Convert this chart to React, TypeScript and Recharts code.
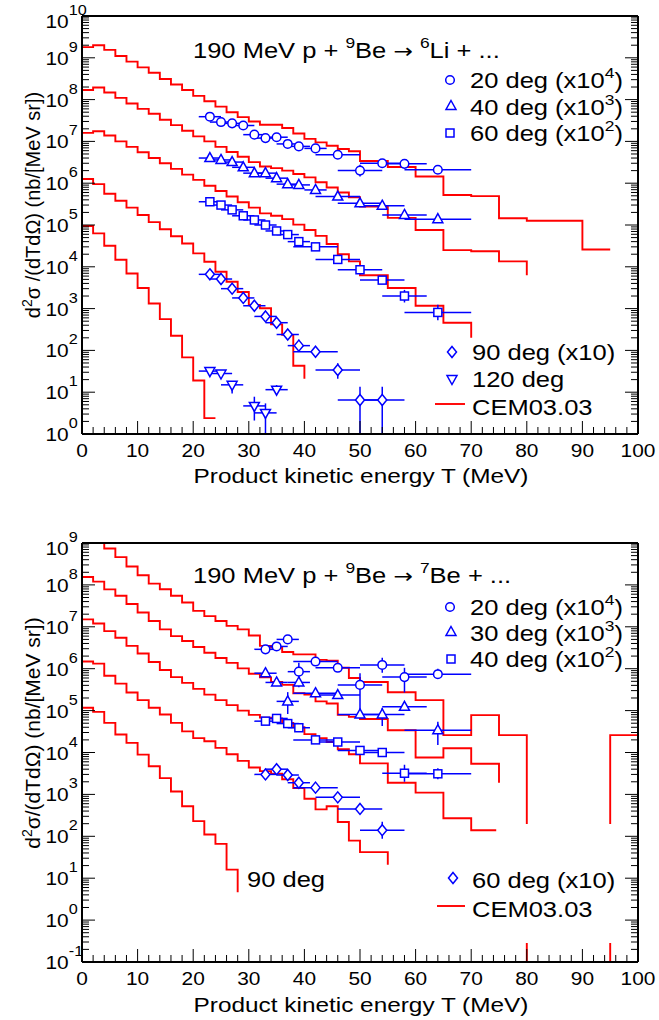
import React from "react";
import {
  ComposedChart,
  Line,
  Scatter,
  XAxis,
  YAxis,
  ErrorBar,
  Legend,
} from "recharts";

const RED = "#ff0000";
const BLUE = "#0000ff";
const FONT = '"Liberation Sans", Arial, Helvetica, sans-serif';
const ARROW_FONT = '"DejaVu Sans", sans-serif';
const SX = 1.16; // text is drawn slightly wide
const W = 659;

// ---------- axes ----------
const xTicks = [
  0, 2, 4, 6, 8, 10, 12, 14, 16, 18, 20, 22, 24, 26, 28, 30, 32, 34, 36, 38, 40,
  42, 44, 46, 48, 50, 52, 54, 56, 58, 60, 62, 64, 66, 68, 70, 72, 74, 76, 78,
  80, 82, 84, 86, 88, 90, 92, 94, 96, 98, 100,
];

// 2 MeV bins up to 50 MeV, then 5 MeV bins
const e2to50 = [
  0, 2, 4, 6, 8, 10, 12, 14, 16, 18, 20, 22, 24, 26, 28, 30, 32, 34, 36, 38, 40,
  42, 44, 46, 48, 50,
];

// ---------- p + 9Be -> 6Li : CEM03.03 ----------
const liCem20Edges = [...e2to50, 55, 60, 65, 70, 75, 80, 85, 90, 95];
const liCem20 = [
  1.8e9, 2.0e9, 1.55e9, 1.1e9, 8.1e8, 5.9e8, 4.4e8, 3.1e8, 2.3e8, 1.7e8,
  1.23e8, 9.1e7, 6.8e7, 5.0e7, 3.8e7, 3.0e7, 2.5e7, 2.5e7, 2.1e7, 1.55e7,
  1.15e7, 9.5e6, 7.9e6, 6.6e6, 5.8e6, 3.4e6, 2.45e6, 1.45e6, 5.2e5, 4.9e5,
  1.45e5, 1.26e5, 1.26e5, 2.6e4,
];
const liCem40Edges = [...e2to50, 55, 60, 65, 70, 75, 80];
const liCem40 = [
  1.7e8, 1.95e8, 1.48e8, 1.1e8, 8.1e7, 6.0e7, 4.6e7, 3.3e7, 2.45e7, 1.8e7,
  1.32e7, 1.0e7, 7.4e6, 5.6e6, 4.3e6, 3.2e6, 2.5e6, 2.3e6, 2.0e6, 1.66e6,
  1.38e6, 1.05e6, 7.9e5, 6.0e5, 4.6e5, 2.75e5, 1.48e5, 7.6e4, 2.5e4, 2.35e4,
  1.35e4,
];
const liCem40Tail = 6.3e3;
const liCem60Edges = [...e2to50, 55, 60, 65, 70];
const liCem60 = [
  1.6e7, 1.75e7, 1.38e7, 1.0e7, 7.4e6, 5.5e6, 4.0e6, 3.0e6, 2.2e6, 1.6e6,
  1.2e6, 8.7e5, 6.5e5, 4.8e5, 3.5e5, 2.6e5, 1.9e5, 1.66e5, 1.38e5, 1.02e5,
  7.6e4, 5.5e4, 3.5e4, 2.0e4, 1.35e4, 6.3e3, 3.1e3, 1.17e3, 460,
];
const liCem60Tail = 200;
const liCem90Edges = [
  0, 2, 4, 6, 8, 10, 12, 14, 16, 18, 20, 22, 24, 26, 28, 30, 32, 34, 36, 38, 40,
];
const liCem90 = [
  1.26e6, 9.5e5, 5.6e5, 3.8e5, 2.6e5, 1.74e5, 1.17e5, 7.9e4, 5.4e4, 3.6e4,
  2.1e4, 1.32e4, 7.6e3, 4.4e3, 2.5e3, 1.23e3, 1.02e3, 420, 235, 43,
];
const liCem90Tail = 21;
const liCem120Edges = [0, 2, 4, 6, 8, 10, 12, 14, 16, 18, 20, 22, 24];
const liCem120 = [
  9.5e4, 6.3e4, 3.2e4, 1.48e4, 6.9e3, 3.1e3, 1.32e3, 560, 225, 68, 19, 2.4,
];

// ---------- p + 9Be -> 6Li : data ----------
const liT = [23, 25, 27, 29, 31, 33, 35, 37, 39, 42, 46, 50, 54, 58, 64];
const liExNarrow = [2, 2, 2, 2, 2, 2, 2, 2, 2, 2, 4, 4, 4, 4, 6];
const liExWide = [2, 2, 2, 2, 2, 2, 2, 2, 2, 4, 4, 4, 4, 4, 6];
const li20 = [
  3.9e7, 2.9e7, 2.7e7, 2.4e7, 1.45e7, 1.2e7, 1.26e7, 8.7e6, 7.6e6, 6.8e6,
  4.8e6, 2.0e6, 3.0e6, 2.9e6, 2.1e6,
];
const li20Ey = [
  [2e6, 2e6], [1.5e6, 1.5e6], [1.4e6, 1.4e6], [1.2e6, 1.2e6], [8e5, 8e5],
  [6e5, 6e5], [6e5, 6e5], [4.5e5, 4.5e5], [4e5, 4e5], [3.5e5, 3.5e5],
  [3e5, 3e5], [5.5e5, 7.6e5], [2e5, 2e5], [2e5, 2e5], [1.5e5, 1.5e5],
];
const li40 = [
  4.0e6, 3.6e6, 3.2e6, 2.4e6, 1.74e6, 1.74e6, 1.32e6, 9.5e5, 9.1e5, 6.9e5,
  4.8e5, 3.3e5, 2.9e5, 1.74e5, 1.38e5,
];
const li40Ey = [
  [2e5, 2e5], [1.8e5, 1.8e5], [1.6e5, 1.6e5], [1.2e5, 1.2e5], [9e4, 9e4],
  [9e4, 9e4], [7e4, 7e4], [5e4, 5e4], [5e4, 5e4], [3.5e4, 3.5e4],
  [2.5e4, 2.5e4], [2e4, 2e4], [2e4, 2e4], [1.2e4, 1.2e4], [1e4, 1e4],
];
const li60 = [
  3.6e5, 3.0e5, 2.3e5, 1.66e5, 1.32e5, 1.0e5, 7.2e4, 5.9e4, 4.0e4, 3.0e4,
  1.5e4, 8.5e3, 4.8e3, 2.0e3, 810,
];
const li60Ey = [
  [1.8e4, 1.8e4], [1.5e4, 1.5e4], [1.2e4, 1.2e4], [8e3, 8e3], [7e3, 7e3],
  [5e3, 5e3], [4e3, 4e3], [3e3, 3e3], [2e3, 2e3], [1.6e3, 1.6e3],
  [900, 900], [600, 600], [400, 400], [600, 800], [280, 420],
];
const li90T = [23, 25, 27, 29, 31, 33, 35, 37, 39, 42, 46, 50, 54];
const li90Ex = [2, 2, 2, 2, 2, 2, 2, 2, 2, 4, 4, 4, 4];
const li90 = [6.6e3, 5.1e3, 3.0e3, 1.8e3, 1.17e3, 650, 460, 240, 130, 93, 34, 6.5, 6.5];
const li90Ey = [
  [330, 330], [260, 260], [150, 150], [90, 90], [60, 60], [35, 35], [30, 30],
  [20, 20], [35, 50], [10, 12], [13, 15], [5.5, 7], [5.5, 7],
];
const li120T = [23, 25, 27, 31, 33, 35];
const li120Ex = [2, 2, 2, 2, 2, 2];
const li120 = [32, 28, 15, 4.7, 3.2, 11.5];
const li120Ey = [[4, 4], [3, 3], [5.7, 2.8], [2.6, 3.1], [2.2, 2.2], [2.2, 3.3]];

// ---------- p + 9Be -> 7Be : CEM03.03 ----------
const beCem20Edges = [...e2to50, 55, 60, 65, 70, 75, 80, 95, 100];
const beCem20 = [
  1.6e9, 1.12e9, 7.4e8, 4.6e8, 2.75e8, 1.7e8, 1.07e8, 7.9e7, 5.5e7, 3.8e7,
  2.4e7, 1.8e7, 1.38e7, 1.05e7, 8.7e6, 6.2e6, 3.5e6, 3.2e6, 2.5e6, 2.2e6,
  2.2e6, 1.62e6, 1.55e6, 1.05e6, 6.0e5, 4.8e5, 2.75e5, 1.78e5, 2.6e4, 7.8e4,
  2.6e4, 1e-3, 2.6e4,
];
const beCem30Edges = [...e2to50, 55, 60, 65, 70, 75];
const beCem30 = [
  1.55e8, 1.2e8, 7.8e7, 5.5e7, 3.5e7, 2.2e7, 1.38e7, 8.7e6, 6.0e6, 4.6e6,
  3.3e6, 2.4e6, 1.8e6, 1.38e6, 1.02e6, 7.6e5, 6.2e5, 4.8e5, 4.1e5, 2.6e5,
  2.4e5, 1.66e5, 1.48e5, 7.9e4, 7.1e4, 6.3e4, 3.4e4, 7.6e3, 1.26e4, 5.4e3,
];
const beCem30Tail = 1.9e3;
const beCem40Edges = [...e2to50, 55, 60, 65, 70, 74.5];
const beCem40 = [
  1.5e7, 1.2e7, 7.9e6, 5.5e6, 3.5e6, 2.3e6, 1.45e6, 9.3e5, 6.3e5, 4.6e5,
  3.3e5, 2.4e5, 1.78e5, 1.35e5, 1.0e5, 7.9e4, 6.8e4, 6.5e4, 5.1e4, 4.0e4,
  2.75e4, 2.2e4, 1.78e4, 1.2e4, 9.1e3, 5.5e3, 1.9e3, 1.1e3, 270, 140,
];
const beCem60Edges = [...e2to50, 55];
const beCem60 = [
  1.48e6, 1.32e6, 6.8e5, 4.4e5, 2.7e5, 1.78e5, 1.17e5, 8.1e4, 5.1e4, 3.2e4,
  2.2e4, 1.86e4, 1.29e4, 9.1e3, 6.3e3, 4.4e3, 3.6e3, 3.1e3, 2.3e3, 1.41e3,
  790, 440, 520, 220, 79, 42,
];
const beCem60Tail = 21;
const beCem90Edges = [0, 2, 4, 6, 8, 10, 12, 14, 16, 18, 20, 22, 24, 26, 28];
const beCem90 = [
  1.17e5, 9.3e4, 5.1e4, 2.7e4, 1.7e4, 8.9e3, 4.7e3, 2.45e3, 1.17e3, 520, 230,
  110, 66, 16,
];
const beCem90Tail = 4.6;

// ---------- p + 9Be -> 7Be : data ----------
const beT = [33, 35, 37, 39, 42, 46, 50, 54, 58, 64];
const beEx = [2, 2, 2, 2, 4, 4, 4, 4, 4, 6];
const be20 = [2.9e6, 3.4e6, 5.0e6, 8.5e5, 1.48e6, 1.05e6, 4.1e5, 1.23e6, 6.3e5, 7.4e5];
const be20Ey = [
  [6e5, 7.5e5], [4.5e5, 4.5e5], [6e5, 6e5], [3.1e5, 5.3e5], [2.5e5, 2.5e5],
  [1.2e5, 1.2e5], [3.2e5, 3.7e5], [4.3e5, 5.9e5], [3.6e5, 4.2e5], [1.5e5, 2.6e5],
];
const be30 = [7.8e5, 4.7e5, 1.66e5, 4.7e5, 2.6e5, 2.35e5, 8.1e4, 8.1e4, 1.23e5, 3.4e4];
const be30Ey = [
  [1.4e5, 1.4e5], [6e4, 6e4], [8.3e4, 1.1e5], [1.1e5, 1.5e5], [5e4, 5e4],
  [3.8e4, 3.8e4], [1.1e4, 1.2e4], [3.8e4, 3.6e4], [2.5e4, 3.2e4], [1.9e4, 2e4],
];
const be40 = [5.6e4, 6.5e4, 4.9e4, 3.9e4, 2.0e4, 1.78e4, 1.12e4, 1.0e4, 3.2e3, 3.1e3];
const be40Ey = [
  [3e3, 3e3], [3e3, 3e3], [2.5e3, 2.5e3], [2e3, 2e3], [1.2e3, 1.2e3],
  [1e3, 1e3], [1e3, 1e3], [1e3, 1e3], [1.2e3, 1.9e3], [800, 1.1e3],
];
const be60T = [33, 35, 37, 39, 42, 46, 50, 54];
const be60Ex = [2, 2, 2, 2, 4, 4, 4, 4];
const be60 = [3.0e3, 4.0e3, 2.9e3, 1.9e3, 1.45e3, 850, 450, 140];
const be60Ey = [
  [700, 900], [400, 400], [200, 200], [150, 150], [100, 100], [70, 70],
  [50, 50], [52, 82],
];

// ---------- helpers ----------
type Pt = { x: number; y: number };
type Kind = "circle" | "triangle" | "square" | "diamond" | "tdown";
type Meas = { x: number; y: number; ex: number; ey: number[] };

function hist(edges: number[], contents: number[], tail?: number): Pt[] {
  const pts = contents.map((c, i) => ({ x: edges[i], y: c }));
  pts.push({
    x: edges[edges.length - 1],
    y: tail ?? contents[contents.length - 1],
  });
  return pts;
}

function meas(t: number[], v: number[], ex: number[], ey: number[][]): Meas[] {
  return t.map((x, i) => ({ x, y: v[i], ex: ex[i], ey: ey[i] }));
}

function logTicks(lo: number, hi: number): number[] {
  const out: number[] = [];
  for (let d = lo; d < hi; d++) {
    for (let k = 1; k <= 9; k++) out.push(Number((k * Math.pow(10, d)).toPrecision(3)));
  }
  out.push(Math.pow(10, hi));
  return out;
}

const isDecade = (v: number) =>
  Math.abs(Math.log10(v) - Math.round(Math.log10(v))) < 1e-6;

function Marker({ kind, cx, cy }: { kind: Kind; cx: number; cy: number }) {
  const st = { fill: "#fff", stroke: BLUE, strokeWidth: 1.5 };
  if (kind === "circle") return <circle cx={cx} cy={cy} r={4.3} {...st} />;
  if (kind === "square")
    return <rect x={cx - 4} y={cy - 4} width={8} height={8} {...st} />;
  let d = "";
  if (kind === "triangle")
    d = `M${cx},${cy - 5.5}L${cx + 5},${cy + 3.5}L${cx - 5},${cy + 3.5}Z`;
  if (kind === "tdown")
    d = `M${cx},${cy + 5.5}L${cx + 5},${cy - 3.5}L${cx - 5},${cy - 3.5}Z`;
  if (kind === "diamond")
    d = `M${cx},${cy - 5.5}L${cx + 4.5},${cy}L${cx},${cy + 5.5}L${cx - 4.5},${cy}Z`;
  return <path d={d} {...st} />;
}

function Txt({ x, y, size, anchor = "start", children }: any) {
  return (
    <text
      transform={`translate(${x} ${y}) scale(${SX} 1)`}
      fontSize={size}
      fontFamily={FONT}
      textAnchor={anchor}
      fill="#000"
    >
      {children}
    </text>
  );
}

// "(x10^n)" style suffix
function Times({ n }: { n?: string }) {
  if (!n) return <tspan>{" (x10)"}</tspan>;
  return (
    <>
      <tspan>{" (x10"}</tspan>
      <tspan dy={-10} fontSize={15}>{n}</tspan>
      <tspan dy={10}>)</tspan>
    </>
  );
}

// reaction title: 190 MeV p + 9Be -> ^A X + ...
function Reaction({ y, a, product }: { y: number; a: string; product: string }) {
  return (
    <Txt x={193} y={y} size={22}>
      {"190 MeV p + "}
      <tspan dy={-10} fontSize={15}>9</tspan>
      <tspan dy={10}>{"Be "}</tspan>
      <tspan fontFamily={ARROW_FONT} fontSize={20}>→</tspan>
      <tspan>{" "}</tspan>
      <tspan dy={-10} fontSize={15}>{a}</tspan>
      <tspan dy={10}>{`${product} + ...`}</tspan>
    </Txt>
  );
}

// ---------- tick renderers (ticks point into the frame) ----------
function BottomTick({ x, y, payload }: any) {
  const major = payload.value % 10 === 0;
  return (
    <g>
      <line x1={x} x2={x} y1={y} y2={y - (major ? 13 : 7)} stroke="#000" />
      {major && (
        <text
          transform={`translate(${x} ${y + 22.5}) scale(${SX} 1)`}
          textAnchor="middle"
          fontSize={18}
          fontFamily={FONT}
        >
          {payload.value}
        </text>
      )}
    </g>
  );
}

function TopTick({ x, y, payload }: any) {
  const major = payload.value % 10 === 0;
  return <line x1={x} x2={x} y1={y} y2={y + (major ? 13 : 7)} stroke="#000" />;
}

function LeftTick({ x, y, payload, hi }: any) {
  const major = isDecade(payload.value);
  const exp = Math.round(Math.log10(payload.value));
  // the label at the upper end sits a little lower, inside the page
  const shift = exp === hi ? 5 : 0;
  return (
    <g>
      <line x1={x} x2={x + (major ? 13 : 7)} y1={y} y2={y} stroke="#000" />
      {major && (
        <text
          transform={`translate(45.5 ${y + 7 + shift}) scale(${SX} 1)`}
          fontSize={18}
          fontFamily={FONT}
        >
          10
          <tspan dy={-13} fontSize={14}>
            {exp}
          </tspan>
        </text>
      )}
    </g>
  );
}

function RightTick({ x, y, payload }: any) {
  const major = isDecade(payload.value);
  return <line x1={x} x2={x - (major ? 13 : 7)} y1={y} y2={y} stroke="#000" />;
}

const frame = { stroke: "#000", strokeWidth: 2 };

type PanelProps = {
  height: number;
  top: number;
  bottom: number;
  yLo: number;
  yHi: number;
  curves: Pt[][];
  series: { kind: Kind; data: Meas[] }[];
  overlay: React.ReactNode;
};

function Panel({ height, top, bottom, yLo, yHi, curves, series, overlay }: PanelProps) {
  const yTicks = logTicks(yLo, yHi);
  const yDomain = [Math.pow(10, yLo), Math.pow(10, yHi)];
  return (
    <ComposedChart width={W} height={height} margin={{ top: 0, right: 0, bottom: 0, left: 0 }}>
      <XAxis
        dataKey="x"
        type="number"
        domain={[0, 100]}
        allowDataOverflow
        ticks={xTicks}
        interval={0}
        height={bottom}
        tickLine={false}
        tickSize={0}
        tickMargin={0}
        axisLine={frame}
        tick={(p: any) => <BottomTick {...p} />}
      />
      <XAxis
        xAxisId="top"
        orientation="top"
        type="number"
        domain={[0, 100]}
        allowDataOverflow
        ticks={xTicks}
        interval={0}
        height={top}
        tickLine={false}
        tickSize={0}
        tickMargin={0}
        axisLine={frame}
        tick={(p: any) => <TopTick {...p} />}
      />
      <YAxis
        dataKey="y"
        type="number"
        scale="log"
        domain={yDomain}
        allowDataOverflow
        ticks={yTicks}
        interval={0}
        width={82}
        tickLine={false}
        tickSize={0}
        tickMargin={0}
        axisLine={frame}
        tick={(p: any) => <LeftTick {...p} hi={yHi} />}
      />
      <YAxis
        yAxisId="right"
        orientation="right"
        type="number"
        scale="log"
        domain={yDomain}
        allowDataOverflow
        ticks={yTicks}
        interval={0}
        width={21}
        tickLine={false}
        tickSize={0}
        tickMargin={0}
        axisLine={frame}
        tick={(p: any) => <RightTick {...p} />}
      />
      {curves.map((c, i) => (
        <Line
          key={`cem${i}`}
          data={c}
          dataKey="y"
          type="stepAfter"
          stroke={RED}
          strokeWidth={1.9}
          dot={false}
          activeDot={false}
          legendType="none"
          isAnimationActive={false}
        />
      ))}
      {series.map((s, i) => (
        <Scatter
          key={`exp${i}`}
          data={s.data}
          dataKey="y"
          legendType="none"
          isAnimationActive={false}
          shape={(p: any) => <Marker kind={s.kind} cx={p.cx} cy={p.cy} />}
        >
          <ErrorBar dataKey="ex" direction="x" width={0} stroke={BLUE} strokeWidth={1.5} />
          <ErrorBar dataKey="ey" direction="y" width={0} stroke={BLUE} strokeWidth={1.5} />
        </Scatter>
      ))}
      <Legend
        layout="vertical"
        align="center"
        verticalAlign="middle"
        wrapperStyle={{ left: 0, top: 0, width: W, height, pointerEvents: "none" }}
        content={() => overlay}
      />
    </ComposedChart>
  );
}

function YTitle({ y, gap, size }: { y: number; gap: boolean; size: number }) {
  return (
    <text
      transform={`translate(40 ${y}) rotate(-90)`}
      textAnchor="middle"
      fontSize={size}
      fontFamily={FONT}
    >
      d
      <tspan dy={-8} fontSize={14}>2</tspan>
      <tspan dy={8}>{gap ? "σ /(dTdΩ) (nb/[MeV sr])" : "σ/(dTdΩ) (nb/[MeV sr])"}</tspan>
    </text>
  );
}

const liOverlay = (
  <svg width={W} height={500} style={{ display: "block" }}>
    <Reaction y={58} a="6" product="Li" />
    <Marker kind="circle" cx={450} cy={80} />
    <Txt x={470} y={88} size={22}>20 deg<Times n="4" /></Txt>
    <Marker kind="triangle" cx={451} cy={106} />
    <Txt x={470} y={115} size={22}>40 deg<Times n="3" /></Txt>
    <Marker kind="square" cx={450} cy={133} />
    <Txt x={470} y={141} size={22}>60 deg<Times n="2" /></Txt>
    <Marker kind="diamond" cx={452} cy={352} />
    <Txt x={472} y={360} size={22}>90 deg<Times /></Txt>
    <Marker kind="tdown" cx={452} cy={379} />
    <Txt x={472} y={387} size={22}>120 deg</Txt>
    <line x1={435} x2={465} y1={404} y2={404} stroke={RED} strokeWidth={1.9} />
    <Txt x={472} y={415} size={22}>CEM03.03</Txt>
    <YTitle y={205} gap size={20} />
    <Txt x={361} y={483} size={21} anchor="middle">Product kinetic energy T (MeV)</Txt>
  </svg>
);

const beOverlay = (
  <svg width={W} height={520} style={{ display: "block" }}>
    {/* legend box, white filled */}
    <rect x={500} y={324} width={120} height={119} fill="#fff" />
    <Reaction y={83} a="7" product="Be" />
    <Marker kind="circle" cx={450} cy={107} />
    <Txt x={470} y={115} size={22}>20 deg<Times n="4" /></Txt>
    <Marker kind="triangle" cx={451} cy={132} />
    <Txt x={470} y={141} size={22}>30 deg<Times n="3" /></Txt>
    <Marker kind="square" cx={451} cy={159} />
    <Txt x={470} y={167} size={22}>40 deg<Times n="2" /></Txt>
    <Txt x={247} y={387} size={22}>90 deg</Txt>
    <Marker kind="diamond" cx={453} cy={378} />
    <Txt x={472} y={388} size={22}>60 deg<Times /></Txt>
    <line x1={437} x2={465} y1={406} y2={406} stroke={RED} strokeWidth={1.9} />
    <Txt x={472} y={417} size={22}>CEM03.03</Txt>
    <YTitle y={233} gap={false} size={21} />
    <Txt x={361} y={512} size={21} anchor="middle">Product kinetic energy T (MeV)</Txt>
  </svg>
);

export default function App() {
  const liCurves = [
    hist(liCem20Edges, liCem20),
    hist(liCem40Edges, liCem40, liCem40Tail),
    hist(liCem60Edges, liCem60, liCem60Tail),
    hist(liCem90Edges, liCem90, liCem90Tail),
    hist(liCem120Edges, liCem120),
  ];
  const liSeries = [
    { kind: "circle" as Kind, data: meas(liT, li20, liExNarrow, li20Ey) },
    { kind: "triangle" as Kind, data: meas(liT, li40, liExNarrow, li40Ey) },
    { kind: "square" as Kind, data: meas(liT, li60, liExWide, li60Ey) },
    { kind: "diamond" as Kind, data: meas(li90T, li90, li90Ex, li90Ey) },
    { kind: "tdown" as Kind, data: meas(li120T, li120, li120Ex, li120Ey) },
  ];
  const beCurves = [
    hist(beCem20Edges, beCem20),
    hist(beCem30Edges, beCem30, beCem30Tail),
    hist(beCem40Edges, beCem40),
    hist(beCem60Edges, beCem60, beCem60Tail),
    hist(beCem90Edges, beCem90, beCem90Tail),
  ];
  const beSeries = [
    { kind: "circle" as Kind, data: meas(beT, be20, beEx, be20Ey) },
    { kind: "triangle" as Kind, data: meas(beT, be30, beEx, be30Ey) },
    { kind: "square" as Kind, data: meas(beT, be40, beEx, be40Ey) },
    { kind: "diamond" as Kind, data: meas(be60T, be60, be60Ex, be60Ey) },
  ];

  return (
    <div
      style={{
        position: "absolute",
        left: 0,
        top: 0,
        width: W,
        height: 1020,
        background: "#fff",
        fontFamily: FONT,
      }}
    >
      <div style={{ position: "absolute", left: 0, top: 0 }}>
        <Panel
          height={500}
          top={16}
          bottom={66}
          yLo={0}
          yHi={10}
          curves={liCurves}
          series={liSeries}
          overlay={liOverlay}
        />
      </div>
      <div style={{ position: "absolute", left: 0, top: 500 }}>
        <Panel
          height={520}
          top={43}
          bottom={58}
          yLo={-1}
          yHi={9}
          curves={beCurves}
          series={beSeries}
          overlay={beOverlay}
        />
      </div>
    </div>
  );
}
